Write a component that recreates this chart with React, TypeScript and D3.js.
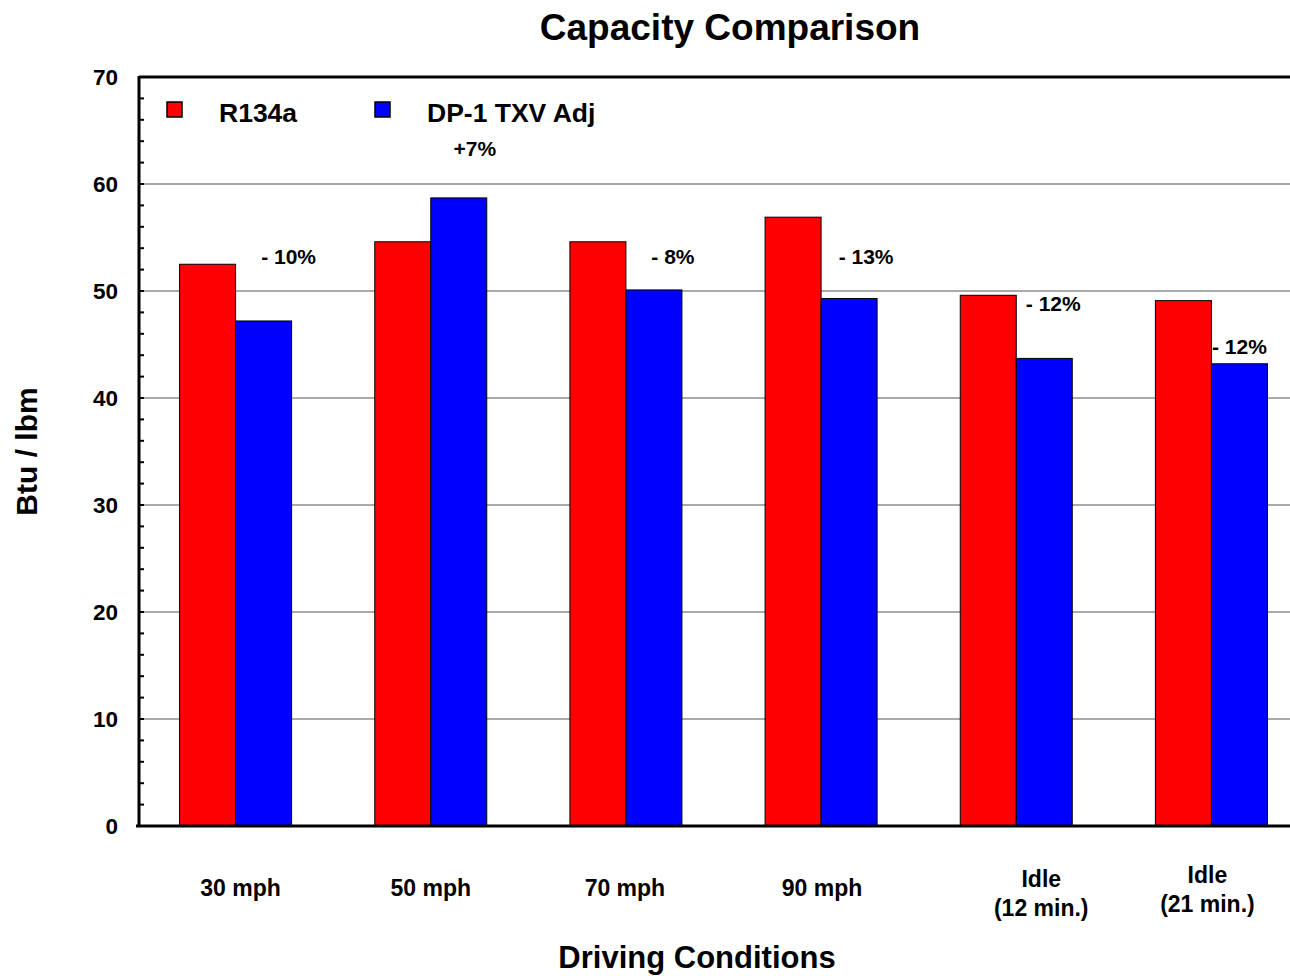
import React from "react";
import * as d3 from "d3";

const categories = ["30 mph", "50 mph", "70 mph", "90 mph", "Idle\n(12 min.)", "Idle\n(21 min.)"];
const seriesNames = ["R134a", "DP-1 TXV Adj"];
const r134a = [52.5, 54.6, 54.6, 56.9, 49.6, 49.1];
const dp1 = [47.2, 58.7, 50.1, 49.3, 43.7, 43.2];
const changeLabels = ["- 10%", "+7%", "- 8%", "- 13%", "- 12%", "- 12%"];
const changeValues = [52.5, 62.6, 52.5, 52.5, 48.1, 44.1];
const yTicks = [0, 10, 20, 30, 40, 50, 60, 70];

const colors = ["#ff0000", "#0000ff"];
const W = 1290, H = 976;
const m = { left: 139, right: -20, top: 77, bottom: 150 };
const font = "'Liberation Sans', Arial, sans-serif";
const labelDx = [5, 0, -1, 1, 25, -4];
const labelDy = [0, 0, 0, 0, -2, -6];
const annDx = [53, 44, 47, 45, 37, 28];

export default function App() {
  const x = d3.scaleBand<string>().domain(categories).range([m.left - 1, W - m.right - 1]).paddingInner(0).paddingOuter(0);
  const y = d3.scaleLinear().domain([0, 70]).range([H - m.bottom, m.top]);
  const bw = 56;
  const minor = d3.range(0, 71, 2);
  return (
    <svg width={W} height={H} style={{ position: "absolute", left: 0, top: 0, fontFamily: font }}>
      <rect width={W} height={H} fill="#fff" />
      <text x={730} y={40} textAnchor="middle" fontSize={37} fontWeight="bold">Capacity Comparison</text>
      {yTicks.filter(t => t > 0 && t < 70).map(t => (
        <line key={t} x1={m.left} x2={W} y1={y(t)} y2={y(t)} stroke="#555" strokeWidth={1} />
      ))}
      {categories.map((c, i) => {
        const cx = x(c)! + x.bandwidth() / 2;
        return (
          <g key={c}>
            <rect x={cx - bw} y={y(r134a[i])} width={bw} height={y(0) - y(r134a[i])} fill={colors[0]} stroke="#000" strokeWidth={1} />
            <rect x={cx} y={y(dp1[i])} width={bw} height={y(0) - y(dp1[i])} fill={colors[1]} stroke="#000" strokeWidth={1} />
            <text x={cx + annDx[i]} y={y(changeValues[i])} textAnchor="middle" fontSize={21} fontWeight="bold">{changeLabels[i]}</text>
            {c.split("\n").map((ln, j, arr) => (
              <text key={j} x={cx + labelDx[i]} y={896 + labelDy[i] + (j - (arr.length - 1)) * 29 + (arr.length > 1 ? 22 : 0)} textAnchor="middle" fontSize={23} fontWeight="bold">{ln}</text>
            ))}
          </g>
        );
      })}
      {minor.map(t => (
        <line key={t} x1={m.left} x2={m.left + 5} y1={y(t)} y2={y(t)} stroke="#000" strokeWidth={2} />
      ))}
      <line x1={m.left} x2={W} y1={y(70)} y2={y(70)} stroke="#000" strokeWidth={3} />
      <line x1={m.left - 3} x2={W} y1={y(0)} y2={y(0)} stroke="#000" strokeWidth={3} />
      <line x1={m.left} x2={m.left} y1={y(70) - 1} y2={y(0) + 1} stroke="#000" strokeWidth={3} />
      {yTicks.map(t => (
        <text key={t} x={118} y={y(t) + 8} textAnchor="end" fontSize={22.5} fontWeight="bold">{t}</text>
      ))}
      <text transform={`translate(37,${(y(0) + y(70)) / 2}) rotate(-90)`} textAnchor="middle" fontSize={30} fontWeight="bold">Btu / lbm</text>
      <text x={697} y={968} textAnchor="middle" fontSize={31} fontWeight="bold">Driving Conditions</text>
      {seriesNames.map((s, i) => (
        <g key={s} transform={`translate(${167 + i * 208},102)`}>
          <rect width={15} height={15} fill={colors[i]} stroke="#000" strokeWidth={1.5} />
          <text x={52} y={20} fontSize={26.5} fontWeight="bold">{s}</text>
        </g>
      ))}
    </svg>
  );
}
